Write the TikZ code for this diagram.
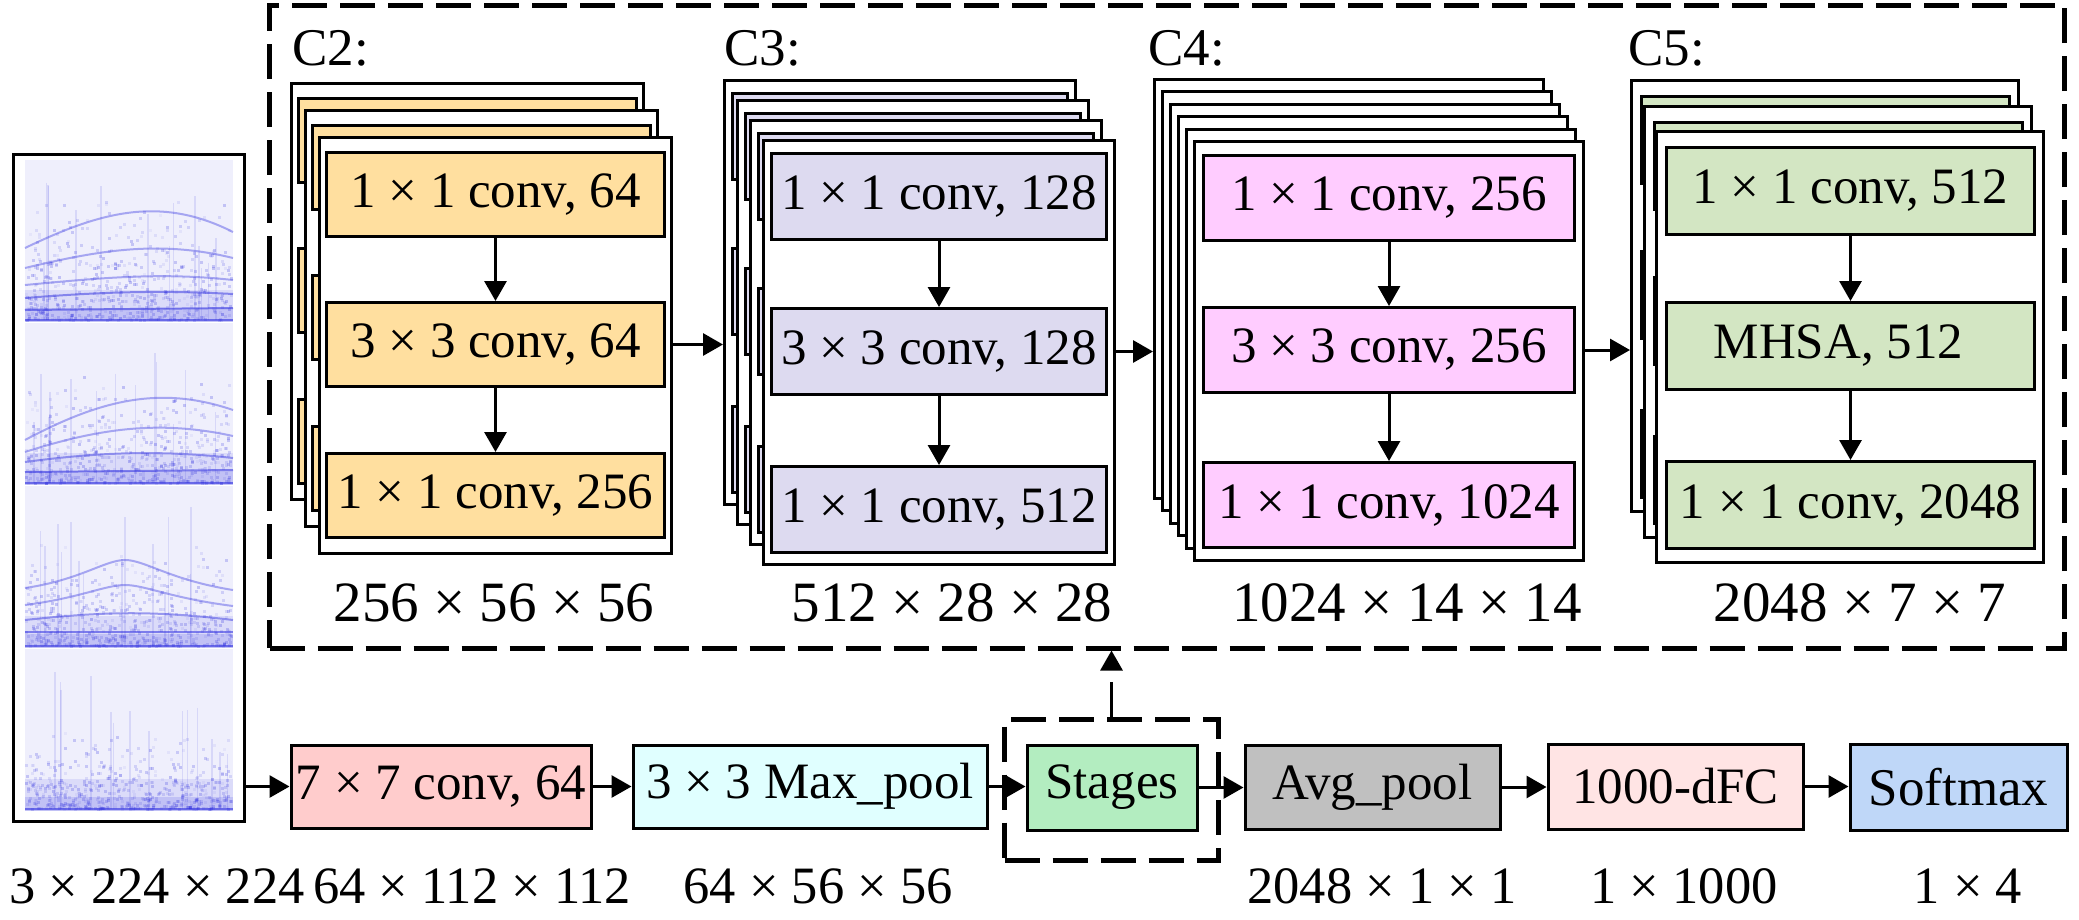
\documentclass[tikz,border=0pt]{standalone}
\usepackage{fontspec}
\setmainfont{Liberation Serif}
\usetikzlibrary{arrows.meta}
\definecolor{cOr}{HTML}{FFDF9F}
\definecolor{cLav}{HTML}{DDDAF0}
\definecolor{cPink}{HTML}{FFCCFF}
\definecolor{cGr}{HTML}{D3E6C3}
\definecolor{cRed}{HTML}{FFCCCC}
\definecolor{cCyan}{HTML}{E0FFFF}
\definecolor{cStg}{HTML}{B3EDC0}
\definecolor{cGray}{HTML}{C0C0C0}
\definecolor{cRose}{HTML}{FFE4E4}
\definecolor{cBlue}{HTML}{BFD7F8}
\definecolor{specbg}{HTML}{EFEFFC}
\definecolor{specln}{HTML}{2F2FE0}

% back layers of a stack, parameters in \SN \FX \FY \FW \FH \NL \DX \DY \BX \BW \TA \TB \TC \BH \COL
\newcommand\backlayers{%
  \foreach \k in {\NL,...,1}{%
    \pgfmathsetmacro\ox{\FX+\k*\DX}%
    \pgfmathsetmacro\oy{\FY+\k*\DY}%
    \node[frm, minimum width=\FW pt, minimum height=\FH pt] (\SN-l\k) at (\ox,\oy) {};
    \node[blk, fill=\COL, minimum width=\BW pt, minimum height=\BH pt] (\SN-l\k a) at (\ox+\BX,\oy+\TA) {};
    \node[blk, fill=\COL, minimum width=\BW pt, minimum height=\BH pt] (\SN-l\k b) at (\ox+\BX,\oy+\TB) {};
    \node[blk, fill=\COL, minimum width=\BW pt, minimum height=\BH pt] (\SN-l\k c) at (\ox+\BX,\oy+\TC) {};
  }%
}
\newcommand\frontlayer[3]{%
  \node[frm, minimum width=\FW pt, minimum height=\FH pt] (\SN) at (\FX,\FY) {};
  \node[blk, fill=\COL, minimum width=\BW pt, minimum height=\BH pt] (\SN a) at (\FX+\BX,\FY+\TA) {#1};
  \node[blk, fill=\COL, minimum width=\BW pt, minimum height=\BH pt] (\SN b) at (\FX+\BX,\FY+\TB) {#2};
  \node[blk, fill=\COL, minimum width=\BW pt, minimum height=\BH pt] (\SN c) at (\FX+\BX,\FY+\TC) {#3};
  \draw[arr] (\SN a) -- (\SN b);
  \draw[arr] (\SN b) -- (\SN c);
}
% spectrogram-like texture: #1 top y, #2 seed, #3 fraction of the panel that is "active" (from bottom)
\newcommand\specpanel[3]{%
  \fill[specbg] (25,#1) rectangle (233,#1+162);
  \pgfmathsetseed{#2}%
  \foreach \i in {1,...,600}{%
    \pgfmathsetmacro\rx{25+rnd*205}%
    \pgfmathsetmacro\ry{#1+1+158*(1-#3*rnd*rnd)}%
    \pgfmathsetmacro\op{0.05+0.2*rnd}%
    \fill[specln, opacity=\op] (\rx,\ry) rectangle ++(3,3);
  }%
  \foreach \i in {1,...,14}{%
    \pgfmathsetmacro\rx{30+rnd*198}%
    \pgfmathsetmacro\ry{#1+20+rnd*90}%
    \draw[specln, opacity=0.12, line width=1.5pt] (\rx,\ry) -- (\rx,#1+160);
  }%
  \fill[specln, opacity=.10] (25,#1+130) rectangle (233,#1+162);
  \fill[specln, opacity=.15] (25,#1+148) rectangle (233,#1+162);
  \draw[specln, opacity=.6, line width=2.5pt] (25,#1+160) -- (233,#1+160);
}

\begin{document}
\begin{tikzpicture}[x=1pt,y=-1pt,
  frm/.style={draw, line width=3pt, fill=white, inner sep=0pt, anchor=north west},
  blk/.style={draw, line width=3pt, inner sep=0pt, anchor=north west, font=\fontsize{51}{57}\selectfont},
  bblk/.style={draw, line width=3pt, inner sep=0pt, font=\fontsize{51}{57}\selectfont},
  arr/.style={line width=3pt, -{Triangle[length=20pt,width=22pt]}},
  dbox/.style={draw, line width=5pt, dash pattern=on 35pt off 13pt, inner sep=0pt, anchor=north west},
  lbl/.style={font=\fontsize{52.5}{58}\selectfont, inner sep=0pt},
  dim/.style={font=\fontsize{57}{62}\selectfont, inner sep=0pt},
  stg/.style={font=\fontsize{53}{60}\selectfont, inner sep=0pt, anchor=base west},
  hline/.style={specln, opacity=.38, line width=2pt}
]
\useasboundingbox (0,0) rectangle (2079,919);

% ---------- top dashed box ----------
\node[dbox, minimum width=1795pt, minimum height=643pt] (topbox) at (267,2.5) {};

% ---------- C2 ----------
\node[stg] (lc2) at (292,65) {C2:};
\def\SN{c2}\def\FX{318}\def\FY{136}\def\FW{352}\def\FH{416}\def\NL{2}\def\DX{-14}\def\DY{-27}
\def\BX{7}\def\BW{338}\def\TA{15}\def\TB{165}\def\TC{316}\def\BH{84}\def\COL{cOr}
\backlayers
\frontlayer{1 × 1 conv, 64}{3 × 3 conv, 64}{1 × 1 conv, 256}
\node[dim] (d2) at (494,603) {256 × 56 × 56};

% ---------- C3 ----------
\node[stg] (lc3) at (724,65) {C3:};
\def\SN{c3}\def\FX{762}\def\FY{139}\def\FW{351}\def\FH{424}\def\NL{3}\def\DX{-13}\def\DY{-20}
\def\BX{8}\def\BW{335}\def\TA{13}\def\TB{168}\def\TC{326}\def\BH{86}\def\COL{cLav}
\backlayers
\frontlayer{1 × 1 conv, 128}{3 × 3 conv, 128}{1 × 1 conv, 512}
\node[dim] (d3) at (952,603) {512 × 28 × 28};

% ---------- C4 ----------
\node[stg] (lc4) at (1148,65) {C4:};
\def\SN{c4}\def\FX{1193}\def\FY{140}\def\FW{389}\def\FH{419}\def\NL{5}\def\DX{-8}\def\DY{-12.4}
\def\BX{9}\def\BW{371}\def\TA{14}\def\TB{166}\def\TC{321}\def\BH{85}\def\COL{cPink}
\backlayers
\frontlayer{1 × 1 conv, 256}{3 × 3 conv, 256}{1 × 1 conv, 1024}
\node[dim] (d4) at (1407,603) {1024 × 14 × 14};

% ---------- C5 ----------
\node[stg] (lc5) at (1628,65) {C5:};
\def\SN{c5}\def\FX{1655}\def\FY{130}\def\FW{387}\def\FH{431}\def\NL{2}\def\DX{-12.5}\def\DY{-25.5}
\def\BX{10}\def\BW{368}\def\TA{16}\def\TB{171}\def\TC{330}\def\BH{87}\def\COL{cGr}
\backlayers
\frontlayer{1 × 1 conv, 512}{MHSA, 512\hspace*{24pt}}{1 × 1 conv, 2048}
\node[dim] (d5) at (1860,603) {2048 × 7 × 7};

% stage-to-stage arrows
\draw[arr] (c2b -| c2.east) -- (c2b -| c3-l3.west);
\draw[arr] (c3b -| c3.east) -- (c3b -| c4-l5.west);
\draw[arr] (c4b -| c4.east) -- (c4b -| c5-l2.west);

% ---------- input spectrograms ----------
\node[draw, line width=3pt, inner sep=0pt, anchor=north west, minimum width=231pt, minimum height=667pt] (img) at (12,153) {};
\specpanel{160}{3}{0.8}
\draw[hline] (25,248) .. controls (100,212) and (160,195) .. (233,232);
\draw[hline] (25,268) .. controls (100,250) and (160,240) .. (233,258);
\draw[hline] (25,285) .. controls (100,278) and (160,272) .. (233,280);
\draw[hline, opacity=.5] (25,298) .. controls (100,292) and (160,290) .. (233,294);
\draw[hline, opacity=.55] (25,310) -- (233,308);
\specpanel{323}{11}{0.7}
\draw[hline] (25,440) .. controls (100,400) and (160,385) .. (233,410);
\draw[hline] (25,452) .. controls (100,428) and (160,420) .. (233,436);
\draw[hline, opacity=.45] (25,462) .. controls (100,452) and (160,450) .. (233,458);
\draw[hline, opacity=.55] (25,472) -- (233,470);
\specpanel{486}{23}{0.65}
\draw[hline] (25,588) .. controls (80,580) and (105,560) .. (125,560) .. controls (145,560) and (170,580) .. (233,590);
\draw[hline] (25,605) .. controls (80,598) and (105,585) .. (125,585) .. controls (145,585) and (170,598) .. (233,606);
\draw[hline, opacity=.45] (25,620) .. controls (100,612) and (150,610) .. (233,620);
\draw[hline, opacity=.55] (25,632) -- (233,632);
\specpanel{649}{37}{0.5}

% ---------- bottom pipeline ----------
\node[bblk, fill=cRed, minimum width=300pt, minimum height=83pt] (c77) at (441,786.5) {7 × 7 conv, 64};
\node[bblk, fill=cCyan, minimum width=354pt, minimum height=83pt] (mp) at (810,786.5) {3 × 3 Max\_pool};
\node[dbox, minimum width=214pt, minimum height=141pt] (sdash) at (1002,717) {};
\node[bblk, fill=cStg, minimum width=170pt, minimum height=85pt] (stg) at (1112,787.5) {Stages};
\node[bblk, fill=cGray, minimum width=255pt, minimum height=84pt] (avg) at (1372.5,787) {Avg\_pool};
\node[bblk, fill=cRose, minimum width=255pt, minimum height=85pt] (fc) at (1675.5,786.5) {1000-dFC};
\node[bblk, fill=cBlue, minimum width=217pt, minimum height=86pt, font=\fontsize{53}{58}\selectfont] (sm) at (1958.5,787) {Softmax};

\draw[arr] (img.east |- c77) -- (c77.west);
\draw[arr] (c77.east) -- (c77.east -| mp.west);
\draw[arr] (mp.east) -- (mp.east -| stg.west);
\draw[arr] (stg.east) -- (stg.east -| avg.west);
\draw[arr] (avg.east) -- (avg.east -| fc.west);
\draw[arr] (fc.east) -- (fc.east -| sm.west);
\draw[arr, dash pattern=on 35pt off 13pt] (sdash.north) -- (sdash.north |- topbox.south);

% ---------- bottom labels ----------
\node[lbl] (l0) at (157,886) {3 × 224 × 224};
\node[lbl] (l1) at (472,886) {64 × 112 × 112};
\node[lbl] (l2) at (818,886) {64 × 56 × 56};
\node[lbl] (l3) at (1382,886) {2048 × 1 × 1};
\node[lbl] (l4) at (1684,886) {1 × 1000};
\node[lbl] (l5) at (1968,886) {1 × 4};
\end{tikzpicture}
\end{document}
